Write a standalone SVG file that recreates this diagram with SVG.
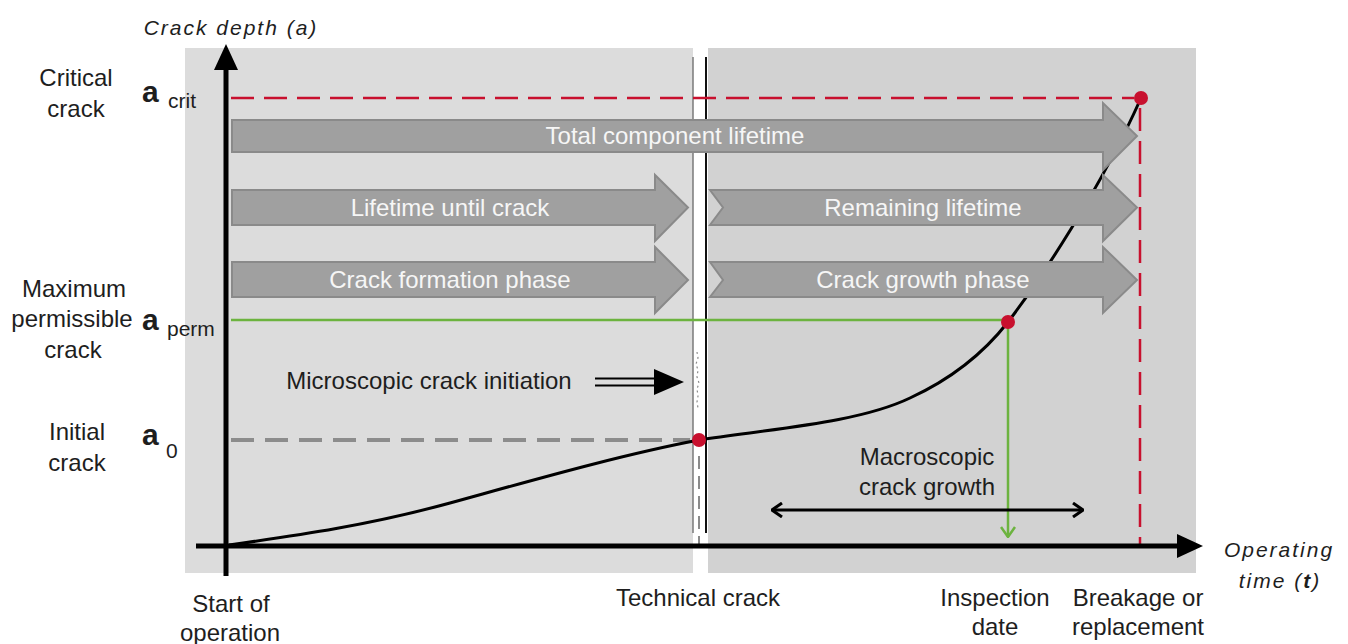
<svg xmlns="http://www.w3.org/2000/svg" width="1348" height="644" viewBox="0 0 1348 644">
<style>
.lbl{font-family:"Liberation Sans",Arial,sans-serif;font-size:24px;fill:#1e1e1e;text-anchor:middle}
.ax{font-family:"Liberation Sans",Arial,sans-serif;font-size:21px;font-style:italic;letter-spacing:2px;fill:#1e1e1e;text-anchor:middle}
.arrtxt{font-family:"Liberation Sans",Arial,sans-serif;font-size:24px;fill:#f6f6f6;text-anchor:middle}
.sym{font-family:"Liberation Sans",Arial,sans-serif;font-size:30px;font-weight:bold;fill:#1e1e1e}
.sub{font-family:"Liberation Sans",Arial,sans-serif;font-size:21px;fill:#1e1e1e}
.bigarrow{fill:#a0a0a0;stroke:#8a8a8a;stroke-width:2}
.dot{fill:#c8102e}
</style>
<defs>
<marker id="openhead" viewBox="0 0 12 16" refX="11" refY="8" markerWidth="12" markerHeight="16" markerUnits="userSpaceOnUse" orient="auto-start-reverse">
<polyline points="1,1 11,8 1,15" fill="none" stroke="#000" stroke-width="3"/>
</marker>
<marker id="greenhead" viewBox="0 0 16 12" refX="8" refY="11" markerWidth="16" markerHeight="12" markerUnits="userSpaceOnUse" orient="0">
<polyline points="1,1 8,11 15,1" fill="none" stroke="#6cb33f" stroke-width="2.5"/>
</marker>
</defs>
<rect width="1348" height="644" fill="#fff"/>
<g id="panel-left"><rect x="185" y="48" width="508" height="525" fill="#dcdcdc"/></g>
<g id="panel-right"><rect x="708" y="48" width="488" height="525" fill="#d2d2d2"/></g>

<g id="connectors">
<line x1="693" y1="57" x2="693" y2="533" stroke="#7a7a7a" stroke-width="1.5"/>
<line x1="706" y1="57" x2="706" y2="533" stroke="#111" stroke-width="2"/>
<path d="M697,352 l1,6 l-2,6 l2,6 l-1,7 l2,6 l-2,6 l1,7 l-1,6 l1,6" fill="none" stroke="#8a8a8a" stroke-width="1.2" stroke-dasharray="2 3"/>
<line x1="699" y1="456" x2="699" y2="545" stroke="#8a8a8a" stroke-width="2" stroke-dasharray="13 7"/>
<line x1="231" y1="98" x2="1134" y2="98" stroke="#c8102e" stroke-width="2.5" stroke-dasharray="23 10"/>
<line x1="1140" y1="108" x2="1140" y2="544" stroke="#c8102e" stroke-width="2.5" stroke-dasharray="23 10"/>
<line x1="231" y1="440" x2="690" y2="440" stroke="#8c8c8c" stroke-width="4" stroke-dasharray="23 11"/>
<line x1="231" y1="320" x2="1008" y2="320" stroke="#6cb33f" stroke-width="2.5"/>
<line x1="1008" y1="322" x2="1008" y2="537" stroke="#6cb33f" stroke-width="2.5" marker-end="url(#greenhead)"/>
<path d="M229,545 C300,535 370,525 450,503 C530,481 620,455 699,440 C780,428 860,422 910,398 C960,375 990,345 1008,322 C1040,280 1100,190 1141,98" fill="none" stroke="#000" stroke-width="3"/>
<line x1="772" y1="510" x2="1083" y2="510" stroke="#000" stroke-width="3" marker-start="url(#openhead)" marker-end="url(#openhead)"/>
<line x1="595" y1="378.5" x2="658" y2="378.5" stroke="#000" stroke-width="2"/>
<line x1="595" y1="385.5" x2="658" y2="385.5" stroke="#000" stroke-width="2"/>
<polygon points="654,369 684,382 654,395" fill="#000"/>
</g>

<g id="axes">
<line x1="226" y1="576" x2="226" y2="66" stroke="#000" stroke-width="5"/>
<polygon points="226,44 214,70 238,70" fill="#000"/>
<line x1="196" y1="546" x2="1180" y2="546" stroke="#000" stroke-width="5"/>
<polygon points="1203,546 1177,534 1177,558" fill="#000"/>
</g>

<g id="arrow-total">
<polygon class="bigarrow" points="232,120 1103,120 1103,103 1137,136 1103,170 1103,152 232,152"/>
<text class="arrtxt" x="675" y="144">Total component lifetime</text>
</g>
<g id="arrow-lifetime-until-crack">
<polygon class="bigarrow" points="232,190 655,190 655,175 688,207.5 655,241 655,225 232,225"/>
<text class="arrtxt" x="450" y="216">Lifetime until crack</text>
</g>
<g id="arrow-crack-formation">
<polygon class="bigarrow" points="232,262 655,262 655,247 688,280 655,313 655,297 232,297"/>
<text class="arrtxt" x="450" y="288">Crack formation phase</text>
</g>
<g id="arrow-remaining-lifetime">
<polygon class="bigarrow" points="710,190 1103,190 1103,175 1137,207.5 1103,241 1103,225 710,225 723,207.5"/>
<text class="arrtxt" x="923" y="216">Remaining lifetime</text>
</g>
<g id="arrow-crack-growth">
<polygon class="bigarrow" points="710,262 1103,262 1103,247 1137,280 1103,313 1103,297 710,297 723,280"/>
<text class="arrtxt" x="923" y="288">Crack growth phase</text>
</g>

<g id="points">
<circle class="dot" cx="699" cy="440" r="7"/>
<circle class="dot" cx="1008" cy="322" r="7"/>
<circle class="dot" cx="1141" cy="98" r="7"/>
</g>

<g id="label-y-axis"><text class="ax" x="231" y="35">Crack depth (a)</text></g>
<g id="label-x-axis">
<text class="ax" x="1279" y="557">Operating</text>
<text class="ax" x="1280" y="588">time (<tspan font-weight="bold">t</tspan>)</text>
</g>

<g id="label-critical">
<text class="lbl" x="76" y="86">Critical</text>
<text class="lbl" x="76" y="117">crack</text>
<text class="sym" x="142" y="102">a</text><text class="sub" x="168" y="108">crit</text>
</g>
<g id="label-permissible">
<text class="lbl" x="74" y="297">Maximum</text>
<text class="lbl" x="72" y="327">permissible</text>
<text class="lbl" x="73" y="358">crack</text>
<text class="sym" x="142" y="330">a</text><text class="sub" x="167" y="336">perm</text>
</g>
<g id="label-initial">
<text class="lbl" x="77" y="440">Initial</text>
<text class="lbl" x="77" y="471">crack</text>
<text class="sym" x="142" y="445">a</text><text class="sub" x="166" y="458">0</text>
</g>

<g id="label-microscopic"><text class="lbl" x="429" y="389">Microscopic crack initiation</text></g>
<g id="label-macroscopic">
<text class="lbl" x="927" y="465">Macroscopic</text>
<text class="lbl" x="927" y="495">crack growth</text>
</g>

<g id="label-start"><text class="lbl" x="231" y="612">Start of</text><text class="lbl" x="230" y="641">operation</text></g>
<g id="label-technical"><text class="lbl" x="698" y="606">Technical crack</text></g>
<g id="label-inspection"><text class="lbl" x="995" y="606">Inspection</text><text class="lbl" x="995" y="635">date</text></g>
<g id="label-breakage"><text class="lbl" x="1138" y="606">Breakage or</text><text class="lbl" x="1138" y="635">replacement</text></g>
</svg>
